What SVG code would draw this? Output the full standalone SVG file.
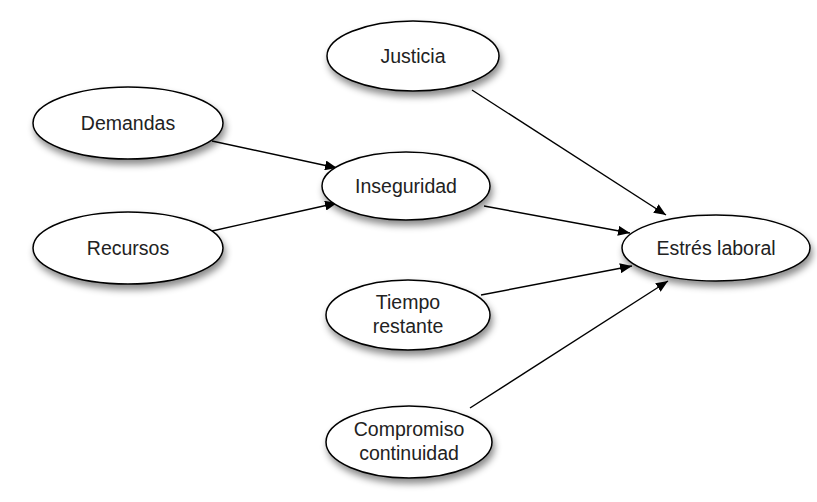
<svg xmlns="http://www.w3.org/2000/svg" width="817" height="502" viewBox="0 0 817 502">
<defs>
<filter id="sh" x="-20%" y="-30%" width="140%" height="170%">
<feDropShadow dx="2" dy="5" stdDeviation="3.5" flood-color="#000" flood-opacity="0.45"/>
</filter>
<marker id="ar" viewBox="0 0 12 10" refX="12" refY="5" markerWidth="12" markerHeight="10" markerUnits="userSpaceOnUse" orient="auto">
<path d="M0,0 L12,5 L0,10 Z" fill="#000"/>
</marker>
<style>
.n ellipse{fill:#fff;stroke:#000;stroke-width:1.5;filter:url(#sh)}
.n text{font-family:"Liberation Sans",Arial,sans-serif;font-size:19.5px;fill:#222;text-anchor:middle}
.e line{stroke:#000;stroke-width:1.4;marker-end:url(#ar)}
</style>
</defs>
<rect width="817" height="502" fill="#fff"/>
<g class="e" id="connectors">
<line x1="212" y1="141" x2="337" y2="168"/>
<line x1="212" y1="231" x2="337" y2="203"/>
<line x1="472" y1="90" x2="666" y2="215"/>
<line x1="484" y1="206" x2="630" y2="233"/>
<line x1="481" y1="295" x2="632" y2="266"/>
<line x1="470" y1="408" x2="668" y2="281"/>
</g>
<g class="n" id="justicia"><ellipse cx="413" cy="56" rx="86" ry="35"/><text x="413" y="63">Justicia</text></g>
<g class="n" id="demandas"><ellipse cx="128" cy="123" rx="95" ry="36"/><text x="128" y="130">Demandas</text></g>
<g class="n" id="recursos"><ellipse cx="128" cy="248" rx="95" ry="36"/><text x="128" y="255">Recursos</text></g>
<g class="n" id="inseguridad"><ellipse cx="406" cy="186" rx="84" ry="34"/><text x="406" y="193">Inseguridad</text></g>
<g class="n" id="estres"><ellipse cx="716" cy="248" rx="94" ry="33"/><text x="716" y="255">Estrés laboral</text></g>
<g class="n" id="tiempo"><ellipse cx="408" cy="315" rx="82" ry="35"/><text x="408" y="309">Tiempo</text><text x="408" y="333">restante</text></g>
<g class="n" id="compromiso"><ellipse cx="409" cy="442" rx="83" ry="36"/><text x="409" y="436">Compromiso</text><text x="409" y="460">continuidad</text></g>
</svg>
